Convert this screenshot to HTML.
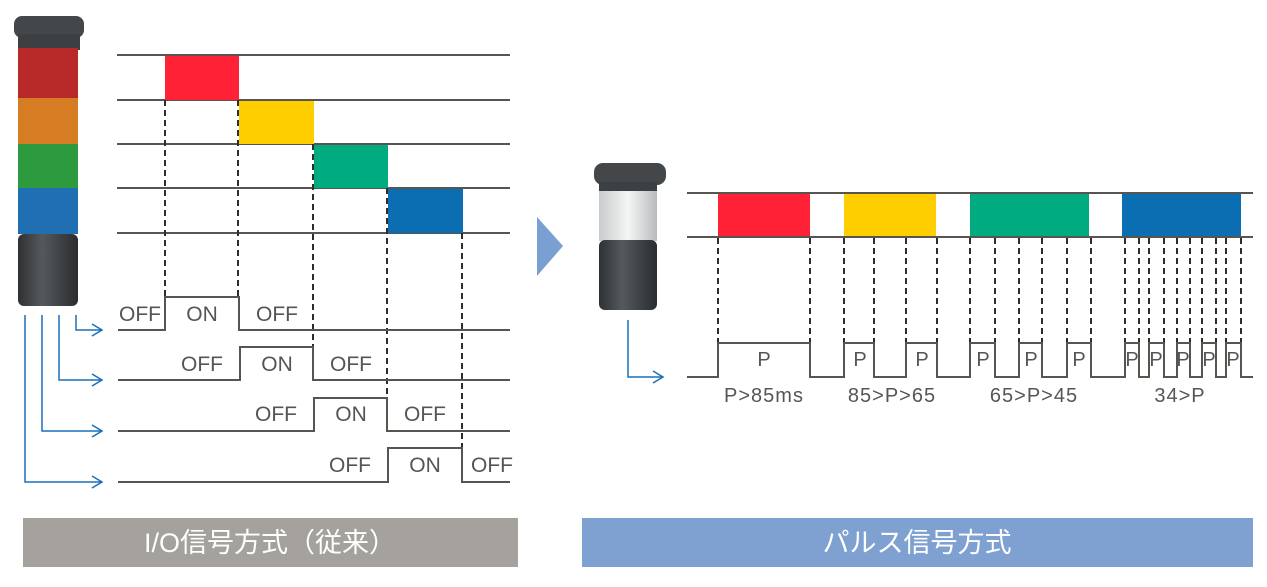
<!DOCTYPE html>
<html><head><meta charset="utf-8"><style>
body{margin:0;background:#fff;width:1267px;height:582px;overflow:hidden}
svg text{font-family:"Liberation Sans","Noto Sans CJK JP",sans-serif}
</style></head><body>
<svg width="1267" height="582" viewBox="0 0 1267 582" xmlns="http://www.w3.org/2000/svg">
<defs>
<linearGradient id="tw" x1="0" x2="1"><stop offset="0" stop-color="#2e3133"/><stop offset="0.4" stop-color="#55595c"/><stop offset="1" stop-color="#2a2d2f"/></linearGradient>
<linearGradient id="cl" x1="0" x2="1"><stop offset="0" stop-color="#c9cccd"/><stop offset="0.5" stop-color="#f4f5f5"/><stop offset="1" stop-color="#b9bcbd"/></linearGradient>
</defs>
<rect x="14" y="16" width="70" height="22" rx="8" fill="#43474a"/>
<rect x="18" y="34" width="62" height="16" fill="#3c4043"/>
<rect x="18" y="48" width="60" height="50" fill="#b82a2a"/>
<rect x="18" y="98" width="60" height="46" fill="#d67c22"/>
<rect x="18" y="144" width="60" height="44" fill="#2e9a40"/>
<rect x="18" y="188" width="60" height="46" fill="#1f6fb2"/>
<rect x="18" y="234" width="60" height="72" rx="6" fill="url(#tw)"/>
<g stroke="#585450" stroke-width="2" fill="none">
<line x1="117" y1="55" x2="510" y2="55"/><line x1="117" y1="100" x2="510" y2="100"/>
<line x1="117" y1="144" x2="510" y2="144"/><line x1="117" y1="188" x2="510" y2="188"/>
<line x1="117" y1="233" x2="510" y2="233"/>
</g>
<rect x="165" y="56" width="74" height="44" fill="#ff2237"/>
<rect x="239" y="101" width="75" height="43" fill="#ffce00"/>
<rect x="314" y="145" width="74" height="43" fill="#00ab80"/>
<rect x="388" y="189" width="75" height="44" fill="#0b6db2"/>
<g stroke="#2f2c2a" stroke-width="2" stroke-dasharray="6,4" fill="none">
<line x1="165" y1="100" x2="165" y2="296"/><line x1="238" y1="100" x2="238" y2="296"/>
<line x1="313" y1="144" x2="313" y2="347"/><line x1="387" y1="188" x2="387" y2="398"/>
<line x1="462" y1="233" x2="462" y2="448"/>
</g>
<g stroke="#585450" stroke-width="2" fill="none">
<polyline points="118,330 165,330 165,297 239,297 239,330 510,330"/>
<polyline points="118,380 240,380 240,347 313,347 313,380 510,380"/>
<polyline points="118,431 314,431 314,398 387,398 387,431 510,431"/>
<polyline points="118,482 388,482 388,448 462,448 462,482 510,482"/>
</g>
<g fill="#555" font-size="21" text-anchor="middle">
<text x="140" y="321">OFF</text><text x="202" y="321">ON</text><text x="277" y="321">OFF</text>
<text x="202" y="371">OFF</text><text x="277" y="371">ON</text><text x="351" y="371">OFF</text>
<text x="276" y="421">OFF</text><text x="351" y="421">ON</text><text x="425" y="421">OFF</text>
<text x="350" y="472">OFF</text><text x="425" y="472">ON</text><text x="492" y="472">OFF</text>
</g>
<g stroke="#1a6fb8" stroke-width="1.5" fill="none">
<polyline points="76,315 76,330 102,330"/><polyline points="92,324 102,330 92,336"/>
<polyline points="59,315 59,380 102,380"/><polyline points="92,374 102,380 92,386"/>
<polyline points="42,315 42,431 102,431"/><polyline points="92,425 102,431 92,437"/>
<polyline points="25,315 25,482 102,482"/><polyline points="92,476 102,482 92,488"/>
<polyline points="628,320 628,377 663,377"/><polyline points="653,371 663,377 653,383"/>
</g>
<polygon points="537,217 563,246 537,276" fill="#7a9fd3"/>
<rect x="594" y="163" width="72" height="22" rx="9" fill="#43474a"/>
<rect x="599" y="182" width="58" height="10" fill="#3c4043"/>
<rect x="599" y="191" width="58" height="50" fill="url(#cl)"/>
<rect x="599" y="240" width="58" height="70" rx="6" fill="url(#tw)"/>
<g stroke="#585450" stroke-width="2" fill="none">
<line x1="687" y1="193" x2="1253" y2="193"/><line x1="687" y1="237" x2="1253" y2="237"/>
</g>
<rect x="718" y="194" width="92" height="42" fill="#ff2237"/>
<rect x="844" y="194" width="92" height="42" fill="#ffce00"/>
<rect x="970" y="194" width="119" height="42" fill="#00ab80"/>
<rect x="1122" y="194" width="119" height="42" fill="#0b6db2"/>
<g stroke="#2f2c2a" stroke-width="2" stroke-dasharray="6,4" fill="none">
<path d="M718 238V342M810 238V342M844 238V342M874 238V342M906 238V342M937 238V342M970 238V342M995 238V342M1019 238V342M1042 238V342M1067 238V342M1091 238V342M1125 238V342M1139 238V342M1149 238V342M1164 238V342M1177 238V342M1190 238V342M1202 238V342M1216 238V342M1226 238V342M1241 238V342"/>
</g>
<polyline stroke="#585450" stroke-width="2" fill="none" points="687,377 718,377 718,343 810,343 810,377 844,377 844,343 874,343 874,377 906,377 906,343 937,343 937,377 970,377 970,343 995,343 995,377 1019,377 1019,343 1042,343 1042,377 1067,377 1067,343 1091,343 1091,377 1125,377 1125,343 1139,343 1139,377 1149,377 1149,343 1164,343 1164,377 1177,377 1177,343 1190,343 1190,377 1202,377 1202,343 1216,343 1216,377 1226,377 1226,343 1241,343 1241,377 1253,377"/>
<g fill="#555" font-size="20" text-anchor="middle">
<text x="764" y="366">P</text><text x="860" y="366">P</text><text x="922" y="366">P</text>
<text x="983" y="366">P</text><text x="1031" y="366">P</text><text x="1079" y="366">P</text>
<text x="1132" y="366">P</text><text x="1156" y="366">P</text><text x="1183" y="366">P</text><text x="1209" y="366">P</text><text x="1233" y="366">P</text>
</g>
<g fill="#555" font-size="20" text-anchor="middle" letter-spacing="1">
<text x="764" y="402">P&gt;85ms</text><text x="892" y="402">85&gt;P&gt;65</text>
<text x="1034" y="402">65&gt;P&gt;45</text><text x="1180" y="402">34&gt;P</text>
</g>
<rect x="23" y="518" width="495" height="49" fill="#a5a29d"/>
<text x="270" y="552" fill="#fff" font-size="27" text-anchor="middle">I/O信号方式（従来）</text>
<rect x="582" y="518" width="671" height="49" fill="#7ea1d1"/>
<text x="917" y="552" fill="#fff" font-size="27" text-anchor="middle">パルス信号方式</text>
</svg>
</body></html>
